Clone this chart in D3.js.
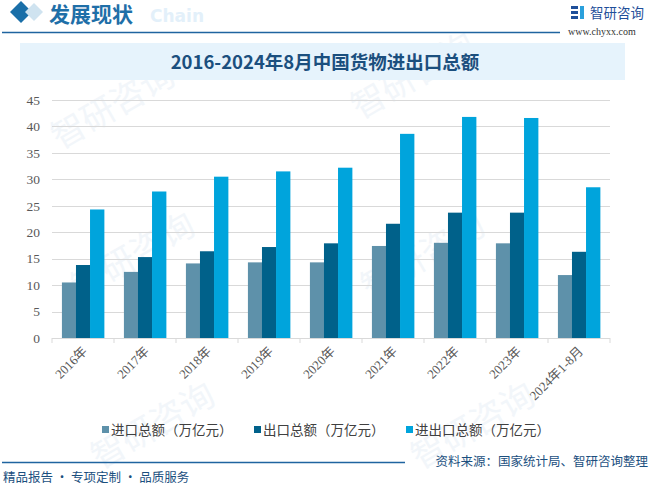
<!DOCTYPE html>
<html><head><meta charset="utf-8">
<script src="https://cdn.jsdelivr.net/npm/d3@7"></script>
<style>body{margin:0;background:#fff}svg{display:block}</style>
</head><body>
<script>
const categories = ["2016年","2017年","2018年","2019年","2020年","2021年","2022年","2023年","2024年1-8月"];
const imports = [10.5, 12.5, 14.1, 14.3, 14.3, 17.4, 18.0, 17.9, 11.9];
const exports_ = [13.8, 15.3, 16.4, 17.2, 17.9, 21.6, 23.7, 23.7, 16.3];
const totals = [24.3, 27.7, 30.5, 31.5, 32.2, 38.6, 41.8, 41.6, 28.5];
const seriesNames = ["进口总额（万亿元）","出口总额（万亿元）","进出口总额（万亿元）"];
const colors = ["#5e91aa","#00618a","#00a4dc"];
const yTicks = [0,5,10,15,20,25,30,35,40,45];

const W=650,H=485;
const svg=d3.select("body").append("svg").attr("width",W).attr("height",H);
const cjk="'Noto Sans CJK SC','Noto Sans',sans-serif";

// watermarks
const wm=svg.append("g").attr("fill","#f2f6fa").attr("font-family",cjk).attr("font-size",34);
[[60,150],[360,120],[80,300],[370,300],[100,470],[420,470]].forEach(p=>{
  wm.append("text").attr("transform",`translate(${p[0]},${p[1]}) rotate(-30)`).text("智研咨询");
});

// header
svg.append("path").attr("d","M10,12 L21,1 L32,12 L21,23 Z").attr("fill","#1a6fa8");
svg.append("path").attr("d","M25,12 L34,3 L43,12 L34,21 Z").attr("fill","#cfe3f0");
svg.append("text").attr("x",150).attr("y",22).attr("font-family","'DejaVu Sans',sans-serif").attr("font-weight","bold")
  .attr("font-size",17).attr("fill","#e3f0fa").text("Chain");
svg.append("text").attr("x",49).attr("y",22).attr("font-family",cjk).attr("font-weight","bold")
  .attr("font-size",21).attr("fill","#1f6fa8").text("发展现状");
svg.append("line").attr("x1",2).attr("x2",560).attr("y1",32.5).attr("y2",32.5).attr("stroke","#1f64a0").attr("stroke-width",1.5);
// logo
const lg=svg.append("g");
lg.append("rect").attr("x",571).attr("y",6).attr("width",7).attr("height",3).attr("fill","#1f4f9a");
lg.append("rect").attr("x",571).attr("y",11).attr("width",7).attr("height",3).attr("fill","#1f4f9a");
lg.append("rect").attr("x",571).attr("y",16).attr("width",7).attr("height",3).attr("fill","#1f4f9a");
lg.append("rect").attr("x",580).attr("y",6).attr("width",4).attr("height",13).attr("fill","#2aa0dc");
svg.append("text").attr("x",590).attr("y",18).attr("font-family",cjk).attr("font-size",13.5).attr("fill","#1f4f9a").text("智研咨询");
svg.append("text").attr("x",568).attr("y",35).attr("font-family","'Liberation Serif',serif").attr("font-size",10).attr("fill","#333").text("www.chyxx.com");

// title bar
svg.append("rect").attr("x",20).attr("y",43).attr("width",605).attr("height",37).attr("fill","#e6f3fc");
svg.append("text").attr("x",325).attr("y",69).attr("text-anchor","middle").attr("font-family",cjk).attr("font-weight","bold")
  .attr("font-size",18.5).attr("fill","#1b4f7e").text("2016-2024年8月中国货物进出口总额");

// chart
const x0=d3.scaleBand().domain(categories).range([52,610]).paddingInner(0.32).paddingOuter(0.16);
const x1=d3.scaleBand().domain([0,1,2]).range([0,x0.bandwidth()]);
const y=d3.scaleLinear().domain([0,45]).range([338,100]);

svg.append("g").selectAll("line").data(yTicks.slice(1)).join("line")
  .attr("x1",52).attr("x2",610).attr("y1",d=>Math.round(y(d))+0.5).attr("y2",d=>Math.round(y(d))+0.5)
  .attr("stroke","#d9d9d9").attr("stroke-width",1);

const yAxis=svg.append("g").attr("transform","translate(52,0)").call(d3.axisLeft(y).tickValues(yTicks).tickSize(0).tickPadding(12));
yAxis.select(".domain").remove();
yAxis.selectAll("text").attr("font-family","'Liberation Serif',serif").attr("font-size",13.5).attr("fill","#595959");

const data=[imports,exports_,totals];
const g=svg.append("g");
categories.forEach((c,i)=>{
  data.forEach((s,j)=>{
    g.append("rect").attr("x",x0(c)+x1(j)).attr("width",x1.bandwidth()+0.3)
      .attr("y",y(s[i])).attr("height",y(0)-y(s[i])).attr("fill",colors[j]);
  });
});

// x axis
const xStep=(610-52)/categories.length;
const xa=svg.append("g");
xa.append("line").attr("x1",52).attr("x2",610).attr("y1",338.5).attr("y2",338.5).attr("stroke","#d9d9d9");
d3.range(categories.length+1).forEach(k=>{
  xa.append("line").attr("x1",52+k*xStep).attr("x2",52+k*xStep).attr("y1",338).attr("y2",343).attr("stroke","#d9d9d9");
});
const xAxis=svg.append("g").attr("transform","translate(0,338)").call(d3.axisBottom(x0).tickSize(0).tickPadding(0));
xAxis.select(".domain").remove();
xAxis.selectAll("text").attr("font-family","'Liberation Serif','Noto Sans CJK SC',serif").attr("font-size",13).attr("fill","#595959")
  .attr("text-anchor","end").attr("dy",0).attr("transform","translate(5,14) rotate(-45)");

// legend
const lgX=[102,254,406];
seriesNames.forEach((n,j)=>{
  svg.append("rect").attr("x",lgX[j]).attr("y",426).attr("width",7).attr("height",7).attr("fill",colors[j]);
  svg.append("text").attr("x",lgX[j]+9).attr("y",434.5).attr("font-family",cjk).attr("font-size",13.5).attr("fill","#404040").text(n);
});

// footer
svg.append("line").attr("x1",2).attr("x2",405).attr("y1",462.5).attr("y2",462.5).attr("stroke","#1f64a0").attr("stroke-width",1.5);
svg.append("text").attr("x",648).attr("y",466).attr("text-anchor","end").attr("font-family",cjk).attr("font-size",12.5).attr("fill","#1b4f7e").text("资料来源：国家统计局、智研咨询整理");
svg.append("text").attr("x",3).attr("y",482).attr("font-family",cjk).attr("font-size",12.5).attr("fill","#1b4f7e").text("精品报告 · 专项定制 · 品质服务");
</script>
</body></html>
